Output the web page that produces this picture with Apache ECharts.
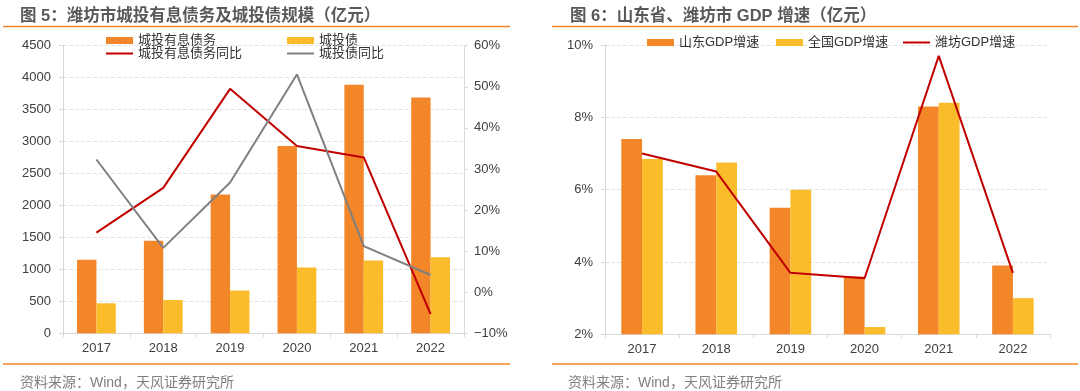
<!DOCTYPE html>
<html><head><meta charset="utf-8">
<script src="https://cdn.jsdelivr.net/npm/echarts@6/dist/echarts.min.js"></script>
<style>html,body{margin:0;padding:0;background:#fff}#c{width:1080px;height:391px}</style>
</head><body><div id="c"></div>
<script>
const years = ['2017','2018','2019','2020','2021','2022'];
// Left chart
const debt = [1150, 1450, 2170, 2930, 3890, 3690];
const bond = [470, 520, 670, 1030, 1140, 1190];
const debtYoY = [14.5, 25.4, 49.5, 35.6, 32.8, -5.3];
const bondYoY = [32.3, 10.8, 26.7, 53.0, 11.2, 4.2];
// Right chart
const sdGDP = [7.4, 6.4, 5.5, 3.6, 8.3, 3.9];
const cnGDP = [6.85, 6.75, 6.0, 2.2, 8.4, 3.0];
const wfGDP = [7.0, 6.5, 3.7, 3.55, 9.7, 3.7];

const ORANGE = '#F4862A', YELLOW = '#FBBC2C', RED = '#C00000', GRAY = '#808080';
const FONT = '"Liberation Sans","Noto Sans CJK SC",sans-serif';
const axisLbl = {fontSize: 13, color: '#404040', fontFamily: FONT};
const lineCol = '#D9D9D9';

const chart = echarts.init(document.getElementById('c'));
const legendBase = {textStyle: {fontSize: 13, color: '#333', fontFamily: FONT}, itemGap: 10, selectedMode: false, padding: 0};
const mkLeg = (name, left, top, isLine) => Object.assign({}, legendBase, {
  data: [name], left, top: isLine ? top : top, itemWidth: 27, itemHeight: isLine ? 2 : 7, icon: 'rect'
});
chart.setOption({
  animation: false,
  textStyle: {fontFamily: FONT},
  title: [
    {text: '图 5：潍坊市城投有息债务及城投债规模（亿元）', left: 15, top: 3, textStyle: {fontSize: 16.5, fontWeight: 'bold', color: '#595959', fontFamily: FONT}},
    {text: '图 6：山东省、潍坊市 GDP 增速（亿元）', left: 565, top: 3, textStyle: {fontSize: 16.5, fontWeight: 'bold', color: '#595959', fontFamily: FONT}},
    {text: '资料来源：Wind，天风证券研究所', left: 15, top: 371, textStyle: {fontSize: 14, fontWeight: 'normal', color: '#7F7F7F', fontFamily: FONT}},
    {text: '资料来源：Wind，天风证券研究所', left: 563, top: 371, textStyle: {fontSize: 14, fontWeight: 'normal', color: '#7F7F7F', fontFamily: FONT}}
  ],
  graphic: [
    {type: 'line', shape: {x1: 3, y1: 26.5, x2: 510, y2: 26.5}, style: {stroke: ORANGE, lineWidth: 1.5}},
    {type: 'line', shape: {x1: 552, y1: 26.5, x2: 1078, y2: 26.5}, style: {stroke: ORANGE, lineWidth: 1.5}},
    {type: 'line', shape: {x1: 3, y1: 364, x2: 510, y2: 364}, style: {stroke: ORANGE, lineWidth: 1.5}},
    {type: 'line', shape: {x1: 552, y1: 364, x2: 1078, y2: 364}, style: {stroke: ORANGE, lineWidth: 1.5}}
  ],
  legend: [
    mkLeg('城投有息债务', 106, 34, false),
    mkLeg('城投债', 287, 34, false),
    mkLeg('城投有息债务同比', 106, 47, true),
    mkLeg('城投债同比', 287, 47, true),
    mkLeg('山东GDP增速', 647, 36, false),
    mkLeg('全国GDP增速', 776, 36, false),
    mkLeg('潍坊GDP增速', 903, 36, true)
  ],
  grid: [
    {left: 63, right: 616, top: 45.7, bottom: 57.7},
    {left: 605, right: 30, top: 45, bottom: 56.7}
  ],
  xAxis: [
    {type: 'category', data: years, gridIndex: 0,
     axisLine: {lineStyle: {color: lineCol}}, axisTick: {show: true, length: 4, lineStyle: {color: lineCol}},
     axisLabel: Object.assign({margin: 9}, axisLbl)},
    {type: 'category', data: years, gridIndex: 1,
     axisLine: {lineStyle: {color: lineCol}}, axisTick: {show: true, length: 4, lineStyle: {color: lineCol}},
     axisLabel: Object.assign({margin: 9}, axisLbl)}
  ],
  yAxis: [
    {type: 'value', gridIndex: 0, min: 0, max: 4500, interval: 500,
     axisLine: {show: true, lineStyle: {color: lineCol}}, axisTick: {show: true, length: 4, lineStyle: {color: lineCol}},
     splitLine: {lineStyle: {color: '#E3E3E3', type: 'dashed'}},
     axisLabel: Object.assign({margin: 12, formatter: v => String(v)}, axisLbl)},
    {type: 'value', gridIndex: 0, position: 'right', min: -10, max: 60, interval: 10,
     axisLine: {show: true, lineStyle: {color: lineCol}}, axisTick: {show: true, length: 4, lineStyle: {color: lineCol}},
     splitLine: {show: false},
     axisLabel: Object.assign({margin: 10, formatter: v => String(v).replace('-', '\u2212') + '%'}, axisLbl)},
    {type: 'value', gridIndex: 1, min: 2, max: 10, interval: 2,
     axisLine: {show: true, lineStyle: {color: lineCol}}, axisTick: {show: true, length: 4, lineStyle: {color: lineCol}},
     splitLine: {lineStyle: {color: '#E3E3E3', type: 'dashed'}},
     axisLabel: Object.assign({margin: 12, formatter: '{value}%'}, axisLbl)}
  ],
  series: [
    {name: '城投有息债务', type: 'bar', xAxisIndex: 0, yAxisIndex: 0, data: debt, barGap: 0, barCategoryGap: '42%', itemStyle: {color: ORANGE}},
    {name: '城投债', type: 'bar', xAxisIndex: 0, yAxisIndex: 0, data: bond, barGap: 0, barCategoryGap: '42%', itemStyle: {color: YELLOW}},
    {name: '城投有息债务同比', type: 'line', xAxisIndex: 0, yAxisIndex: 1, data: debtYoY, symbol: 'none', lineStyle: {color: RED, width: 2}, itemStyle: {color: RED}},
    {name: '城投债同比', type: 'line', xAxisIndex: 0, yAxisIndex: 1, data: bondYoY, symbol: 'none', lineStyle: {color: GRAY, width: 2}, itemStyle: {color: GRAY}},
    {name: '山东GDP增速', type: 'bar', xAxisIndex: 1, yAxisIndex: 2, data: sdGDP, barGap: 0, barCategoryGap: '44%', itemStyle: {color: ORANGE}},
    {name: '全国GDP增速', type: 'bar', xAxisIndex: 1, yAxisIndex: 2, data: cnGDP, barGap: 0, barCategoryGap: '44%', itemStyle: {color: YELLOW}},
    {name: '潍坊GDP增速', type: 'line', xAxisIndex: 1, yAxisIndex: 2, data: wfGDP, symbol: 'none', lineStyle: {color: RED, width: 2}, itemStyle: {color: RED}}
  ]
});
</script></body></html>
